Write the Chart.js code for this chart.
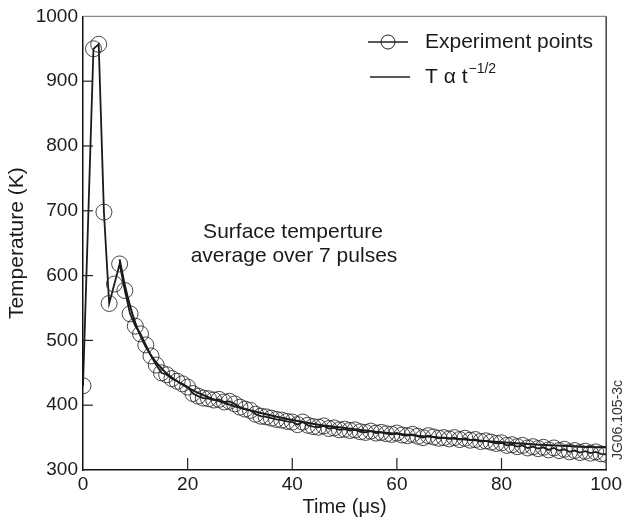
<!DOCTYPE html>
<html>
<head>
<meta charset="utf-8">
<script src="https://cdn.jsdelivr.net/npm/chart.js@4.4.0/dist/chart.umd.min.js"></script>
<style>
  body { margin: 0; background: #fff; }
  #wrap { width: 625px; height: 524px; }
</style>
</head>
<body>
<div id="wrap"><canvas id="myChart" width="625" height="524"></canvas></div>
<script>
// time (us) of each measured point
var expTime = [0, 2, 3, 4, 5, 6, 7, 8, 9, 10, 11, 12, 13, 14, 15, 16, 17, 18, 19, 20,
  21, 22, 23, 24, 25, 26, 27, 28, 29, 30, 31, 32, 33, 34, 35, 36, 37, 38, 39, 40,
  41, 42, 43, 44, 45, 46, 47, 48, 49, 50, 51, 52, 53, 54, 55, 56, 57, 58, 59, 60,
  61, 62, 63, 64, 65, 66, 67, 68, 69, 70, 71, 72, 73, 74, 75, 76, 77, 78, 79, 80,
  81, 82, 83, 84, 85, 86, 87, 88, 89, 90, 91, 92, 93, 94, 95, 96, 97, 98, 99, 100];
// temperature (K) of each measured point
var expTemp = [430, 950, 957, 698, 557, 587, 618, 577, 541, 522, 510, 493, 476, 462, 450, 447, 441, 437, 433, 428,
  418, 414, 411, 410, 408, 409, 405, 406, 402, 397, 394, 392, 386, 383, 382, 380, 378, 377, 375, 374,
  370, 374, 369, 367, 366, 368, 364, 365, 362, 363, 361, 362, 359, 358, 360, 357, 358, 356, 355, 357,
  354, 353, 355, 352, 350, 353, 351, 349, 350, 348, 350, 347, 349, 346, 347, 344, 345, 343, 341, 342,
  338, 339, 336, 338, 334, 336, 333, 335, 331, 334, 330, 332, 328, 330, 327, 329, 326, 328, 325, 324];

// T ~ t^-1/2 curve
var fitTime = [7, 8, 9, 10, 11, 12, 13, 14, 15, 16, 18, 20, 22, 25, 28, 30, 35, 40, 45, 50, 55, 60, 65, 70, 75, 80, 85, 90, 95, 100];
var fitTemp = [625, 585, 553, 527, 507, 490, 477, 466, 457, 449, 437, 427, 419, 409, 401, 396, 386, 377, 370, 365, 360, 356, 352, 349, 346, 343, 340, 338, 336, 335];

var xTicks = [0, 20, 40, 60, 80, 100];
var yTicks = [300, 400, 500, 600, 700, 800, 900, 1000];

var FONT = "'Liberation Sans', Arial, Helvetica, sans-serif";

function toPoints(xs, ys) {
  var out = [];
  for (var i = 0; i < xs.length; i++) out.push({x: xs[i], y: ys[i]});
  return out;
}

// inward ticks, frame, legend and notes
var decorPlugin = {
  id: 'decor',
  afterDraw: function(chart) {
    var ctx = chart.ctx;
    var a = chart.chartArea;
    var xs = chart.scales.x, ys = chart.scales.y;
    ctx.save();
    // top border gray, right border black
    ctx.lineWidth = 1.2;
    ctx.strokeStyle = '#8a8a8a';
    ctx.beginPath(); ctx.moveTo(a.left, a.top); ctx.lineTo(a.right, a.top); ctx.stroke();
    ctx.strokeStyle = '#111';
    ctx.beginPath(); ctx.moveTo(a.right, a.top); ctx.lineTo(a.right, a.bottom); ctx.stroke();
    // inward ticks
    ctx.strokeStyle = '#222';
    ctx.lineWidth = 1.2;
    xTicks.forEach(function(v) {
      if (v == 0 || v == 100) return;
      var px = xs.getPixelForValue(v);
      ctx.beginPath(); ctx.moveTo(px, a.bottom); ctx.lineTo(px, a.bottom - 12); ctx.stroke();
    });
    yTicks.forEach(function(v) {
      if (v == 300 || v == 1000) return;
      var py = ys.getPixelForValue(v);
      ctx.beginPath(); ctx.moveTo(a.left, py); ctx.lineTo(a.left + 10, py); ctx.stroke();
    });

    // legend
    ctx.fillStyle = '#1a1a1a';
    ctx.textBaseline = 'middle';
    ctx.font = '21px ' + FONT;
    ctx.lineWidth = 1.5;
    ctx.beginPath(); ctx.moveTo(368, 42); ctx.lineTo(408, 42); ctx.stroke();
    ctx.lineWidth = 1;
    ctx.beginPath(); ctx.arc(388, 42, 7, 0, Math.PI * 2); ctx.stroke();
    ctx.fillText('Experiment points', 425, 42);
    ctx.lineWidth = 1.5;
    ctx.beginPath(); ctx.moveTo(370, 77); ctx.lineTo(410, 77); ctx.stroke();
    ctx.fillText('T \u03b1 t', 425, 77);
    var w = ctx.measureText('T \u03b1 t').width;
    ctx.font = '14px ' + FONT;
    ctx.fillText('\u22121/2', 425 + w + 1, 69);

    // annotation
    ctx.font = '21px ' + FONT;
    ctx.textAlign = 'center';
    ctx.fillText('Surface temperture', 293, 232);
    ctx.fillText('average over 7 pulses', 294, 256);

    // figure id
    ctx.font = '14px ' + FONT;
    ctx.fillStyle = '#333';
    ctx.translate(618, 420);
    ctx.rotate(-Math.PI / 2);
    ctx.fillText('JG06.105-3c', 0, 0);
    ctx.restore();
  }
};

var ctx = document.getElementById('myChart').getContext('2d');
var myChart = new Chart(ctx, {
  type: 'line',
  data: {
    datasets: [{
      label: 'T \u03b1 t-1/2',
      data: toPoints(fitTime, fitTemp),
      borderColor: '#1a1a1a',
      borderWidth: 2,
      pointRadius: 0,
      tension: 0.3,
      fill: false
    }, {
      label: 'Experiment points',
      data: toPoints(expTime, expTemp),
      borderColor: '#1a1a1a',
      borderWidth: 1.8,
      pointRadius: 8,
      pointBorderWidth: 1,
      pointBorderColor: 'rgba(40,40,40,0.85)',
      pointBackgroundColor: 'rgba(0,0,0,0)',
      tension: 0,
      fill: false
    }]
  },
  options: {
    responsive: false,
    animation: false,
    layout: { padding: { top: 15, right: 17, left: 0, bottom: 0 } },
    plugins: {
      legend: { display: false },
      tooltip: { enabled: false }
    },
    scales: {
      x: {
        type: 'linear',
        min: 0,
        max: 100,
        afterFit: function(scale) { scale.height = 54; },
        afterBuildTicks: function(scale) { scale.ticks = xTicks.map(function(v) { return {value: v}; }); },
        ticks: { font: { family: FONT, size: 19 }, color: '#1a1a1a', padding: 3, maxRotation: 0,
          callback: function(v) { return String(v); } },
        grid: { display: false, drawTicks: false },
        border: { display: true, color: '#111', width: 1.5 },
        title: { display: true, text: 'Time (\u03bcs)', font: { family: FONT, size: 20 }, color: '#1a1a1a', padding: { top: 0, bottom: 5 } }
      },
      y: {
        min: 300,
        max: 1000,
        afterFit: function(scale) { scale.width = 83; },
        afterBuildTicks: function(scale) { scale.ticks = yTicks.map(function(v) { return {value: v}; }); },
        ticks: { font: { family: FONT, size: 19 }, color: '#1a1a1a', padding: 5,
          callback: function(v) { return String(v); } },
        grid: { display: false, drawTicks: false },
        border: { display: true, color: '#111', width: 1.5 },
        title: { display: true, text: 'Temperature (K)', font: { family: FONT, size: 21 }, color: '#1a1a1a', padding: { top: 5, bottom: 0 } }
      }
    }
  },
  plugins: [decorPlugin]
});
</script>
</body>
</html>
